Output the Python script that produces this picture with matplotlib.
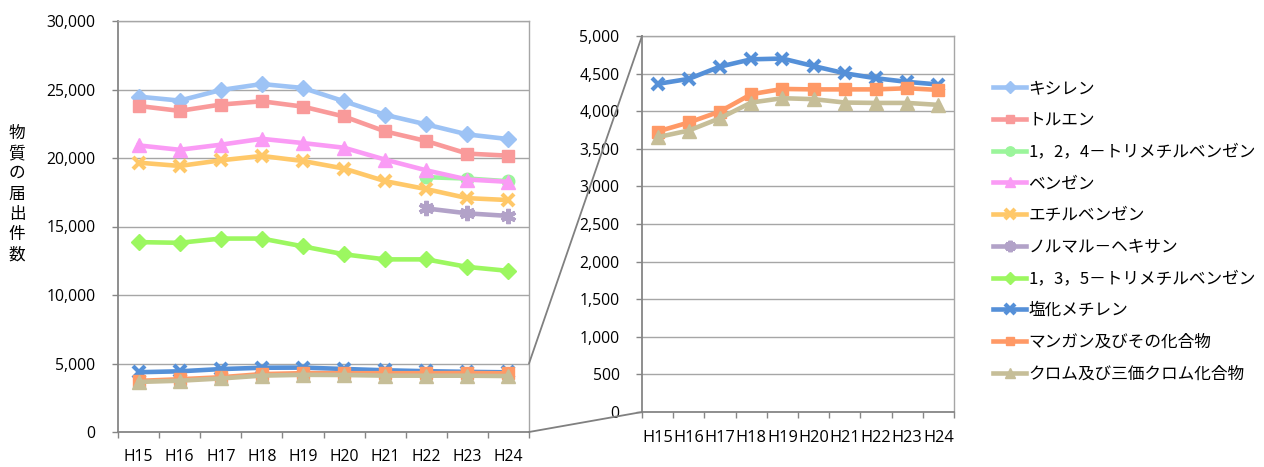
import numpy as np
import matplotlib
matplotlib.use("Agg")
import matplotlib.pyplot as plt
from matplotlib.patches import ConnectionPatch
from matplotlib.ticker import FuncFormatter, MultipleLocator

# Fiscal years (Heisei)
years = ["H15", "H16", "H17", "H18", "H19", "H20", "H21", "H22", "H23", "H24"]

# Number of notifications per substance
xylene = [24480, 24190, 24960, 25400, 25110, 24140, 23150, 22450, 21720, 21380]
toluene = [23800, 23440, 23900, 24140, 23750, 23030, 21940, 21240, 20320, 20170]
tmb124 = [np.nan] * 7 + [18600, 18500, 18300]
benzene = [20920, 20600, 20970, 21400, 21090, 20750, 19880, 19100, 18430, 18260]
ethylbenzene = [19660, 19420, 19830, 20150, 19780, 19230, 18310, 17730, 17070, 16930]
hexane = [np.nan] * 7 + [16320, 15960, 15770]
tmb135 = [13860, 13810, 14120, 14120, 13550, 12970, 12600, 12600, 12050, 11760]
dichloromethane = [4363, 4430, 4593, 4690, 4700, 4600, 4504, 4438, 4390, 4355]
manganese = [3730, 3850, 3996, 4226, 4296, 4290, 4290, 4290, 4305, 4283]
chromium = [3655, 3743, 3907, 4115, 4173, 4160, 4115, 4110, 4110, 4084]

names = [
    "キシレン",
    "トルエン",
    "1，2，4－トリメチルベンゼン",
    "ベンゼン",
    "エチルベンゼン",
    "ノルマル－ヘキサン",
    "1，3，5－トリメチルベンゼン",
    "塩化メチレン",
    "マンガン及びその化合物",
    "クロム及び三価クロム化合物",
]
series = [xylene, toluene, tmb124, benzene, ethylbenzene, hexane, tmb135,
          dichloromethane, manganese, chromium]

styles = [
    dict(color="#9DC3F5", marker="D", ms=8.5),
    dict(color="#F99A9A", marker="s", ms=8),
    dict(color="#9BF59B", marker="o", ms=9),
    dict(color="#FA9BF5", marker="^", ms=10),
    dict(color="#FFC869", marker="x", ms=9, mew=3),
    dict(color="#B2A2C8", marker=(6, 2, 0), ms=11, mew=3),
    dict(color="#9CF760", marker="D", ms=8.5),
    dict(color="#5590D8", marker="x", ms=9, mew=3),
    dict(color="#FF9966", marker="s", ms=8),
    dict(color="#C6BE98", marker="^", ms=10),
]

plt.rcParams["font.family"] = ["Open Sans", "Noto Sans CJK JP", "DejaVu Sans"]
JP = ["Noto Sans CJK JP", "DejaVu Sans"]

W, H = 1264, 467
fig = plt.figure(figsize=(W / 100, H / 100), dpi=100)

grid_c = "#A6A6A6"
spine_c = "#868686"
tick_fs = 11.3

def px_axes(l, t, r, b):
    return fig.add_axes([l / W, 1 - b / H, (r - l) / W, (b - t) / H])

ax1 = px_axes(118, 21, 529, 432)
ax2 = px_axes(642, 36, 954, 412)

x = np.arange(len(years))
handles = []
for vals, name, st in zip(series, names, styles):
    st = dict(st)
    mew = st.pop("mew", 1.0)
    ln, = ax1.plot(x, vals, lw=3.3, mew=mew, mec=st["color"], mfc=st["color"],
                   label=name, zorder=3, **st)
    handles.append(ln)

for vals, st in zip(series[7:], styles[7:]):
    st = dict(st)
    mew = st.pop("mew", 1.0)
    ax2.plot(x, vals, lw=3.3, mew=mew, mec=st["color"], mfc=st["color"],
             zorder=3, **st)

fmt = FuncFormatter(lambda v, p: f"{int(v):,}")
for ax, top, step, ypad, xpad in ((ax1, 30000, 5000, 12.2, 8.6),
                                  (ax2, 5000, 500, 12.2, 9.0)):
    ax.set_xlim(-0.5, len(years) - 0.5)
    ax.set_ylim(0, top)
    ax.yaxis.set_major_locator(MultipleLocator(step))
    ax.yaxis.set_major_formatter(fmt)
    ax.set_xticks(x)
    ax.set_xticklabels(years)
    ax.set_xticks(np.arange(-0.5, len(years)), minor=True)
    ax.tick_params(axis="x", which="major", length=0, pad=xpad + 3.8,
                   labelsize=tick_fs)
    ax.tick_params(axis="x", which="minor", length=4, width=1, color=spine_c,
                   direction="out")
    ax.tick_params(axis="y", length=4, width=1, color=spine_c,
                   direction="out", pad=ypad, labelsize=tick_fs)
    ax.grid(axis="y", color=grid_c, lw=1.0, zorder=0)
    ax.set_axisbelow(True)
    for side in ("top", "right"):
        ax.spines[side].set_color(grid_c)
        ax.spines[side].set_linewidth(1.0)
    for side in ("left", "bottom"):
        ax.spines[side].set_color(spine_c)
        ax.spines[side].set_linewidth(1.3)

ax2.tick_params(axis="x", which="major", labelsize=11.8)

# Magnification guide lines from the 0-5,000 band to the detail chart
for yv in (5000, 0):
    con = ConnectionPatch(xyA=(1, yv), coordsA=ax1.get_yaxis_transform(),
                          xyB=(0, yv), coordsB=ax2.get_yaxis_transform(),
                          color="#808080", lw=1.3)
    fig.add_artist(con)

# Vertical axis title, one character per line
fig.text(17 / W, 1 - 194 / H, "\n".join("物質の届出件数"), family=JP,
         fontsize=12, ha="center", va="center", linespacing=1.25)

leg = fig.legend(handles=handles, loc="upper left",
                 bbox_to_anchor=(993 / W, 1 - 80 / H), frameon=False,
                 borderpad=0, borderaxespad=0, handlelength=2.0,
                 handletextpad=0.12, labelspacing=0.885, markerscale=0.75,
                 prop=dict(family=JP, size=12))

fig.savefig("out.png", dpi=100)
